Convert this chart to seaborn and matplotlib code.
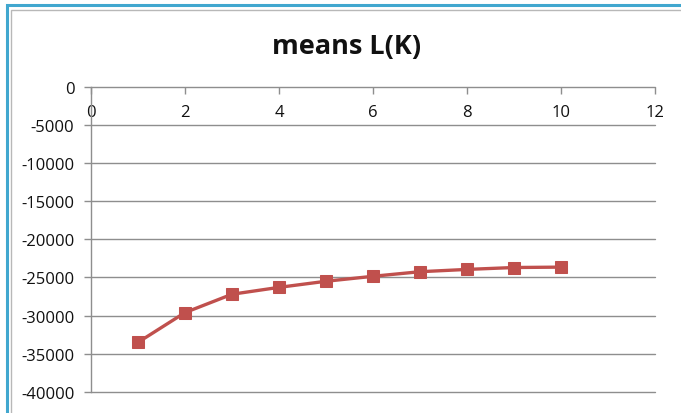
import matplotlib
matplotlib.use("Agg")
import matplotlib.pyplot as plt
from matplotlib.patches import Rectangle
import seaborn as sns
import pandas as pd

# Mean log-likelihood L(K) for each number of clusters K
k_values = [1, 2, 3, 4, 5, 6, 7, 8, 9, 10]
mean_lk = [-33500, -29600, -27200, -26300, -25500, -24850, -24250, -23950, -23700, -23650]

x_ticks = [0, 2, 4, 6, 8, 10, 12]
y_ticks = [0, -5000, -10000, -15000, -20000, -25000, -30000, -35000, -40000]
title = "means L(K)"

sns.set_style("white")
plt.rcParams["font.family"] = ["Open Sans", "DejaVu Sans"]

df = pd.DataFrame({"K": k_values, "L": mean_lk})

fig = plt.figure(figsize=(6.81, 4.14), dpi=100)
W, H = 681, 414

# chart frame: aqua outer border with a thin grey inner line
fig.patches.append(Rectangle((7 / W, -0.2), 1.2, (H - 6) / H + 0.2,
                             transform=fig.transFigure, fill=False,
                             edgecolor="#41A7CF", linewidth=2.2, zorder=0))
fig.patches.append(Rectangle((10.5 / W, -0.2), 1.2, (H - 10.5) / H + 0.2,
                             transform=fig.transFigure, fill=False,
                             edgecolor="#B8B8B8", linewidth=1.0, zorder=0))

left, right = 91 / W, 655 / W
top, bottom = 1 - 87.5 / H, 1 - 393 / H
ax = fig.add_axes([left, bottom, right - left, top - bottom])

grid_color = "#8E8E8E"
for y in y_ticks:
    ax.axhline(y, color=grid_color, linewidth=1.0, zorder=1, clip_on=False)

sns.lineplot(data=df, x="K", y="L", ax=ax, color="#C0504D", linewidth=2.4,
             marker="s", markersize=8.5, markeredgecolor="#C0504D",
             markerfacecolor="#C0504D", zorder=3)

ax.set_xlim(0, 12)
ax.set_ylim(-40000, 0)
ax.set_xticks(x_ticks)
ax.set_yticks(y_ticks)
ax.set_xticklabels([str(v) for v in x_ticks])
ax.set_yticklabels([str(v) for v in y_ticks])
ax.set_xlabel("")
ax.set_ylabel("")

for side in ["right", "bottom", "top"]:
    ax.spines[side].set_visible(False)
ax.spines["left"].set_color(grid_color)
ax.spines["left"].set_linewidth(1.0)

ax.tick_params(axis="x", bottom=False, labelbottom=False, top=True, labeltop=True,
               direction="in", length=5, width=1.0, color=grid_color,
               pad=-24, labelsize=12, labelcolor="#111111")
ax.tick_params(axis="y", left=True, direction="out", length=5, width=1.0,
               color=grid_color, pad=7, labelsize=12, labelcolor="#111111")

fig.text(347 / W, 1 - 47 / H, title, ha="center", va="center",
         fontsize=19.5, fontweight="bold", color="#111111")

fig.savefig("out.png", dpi=100)
